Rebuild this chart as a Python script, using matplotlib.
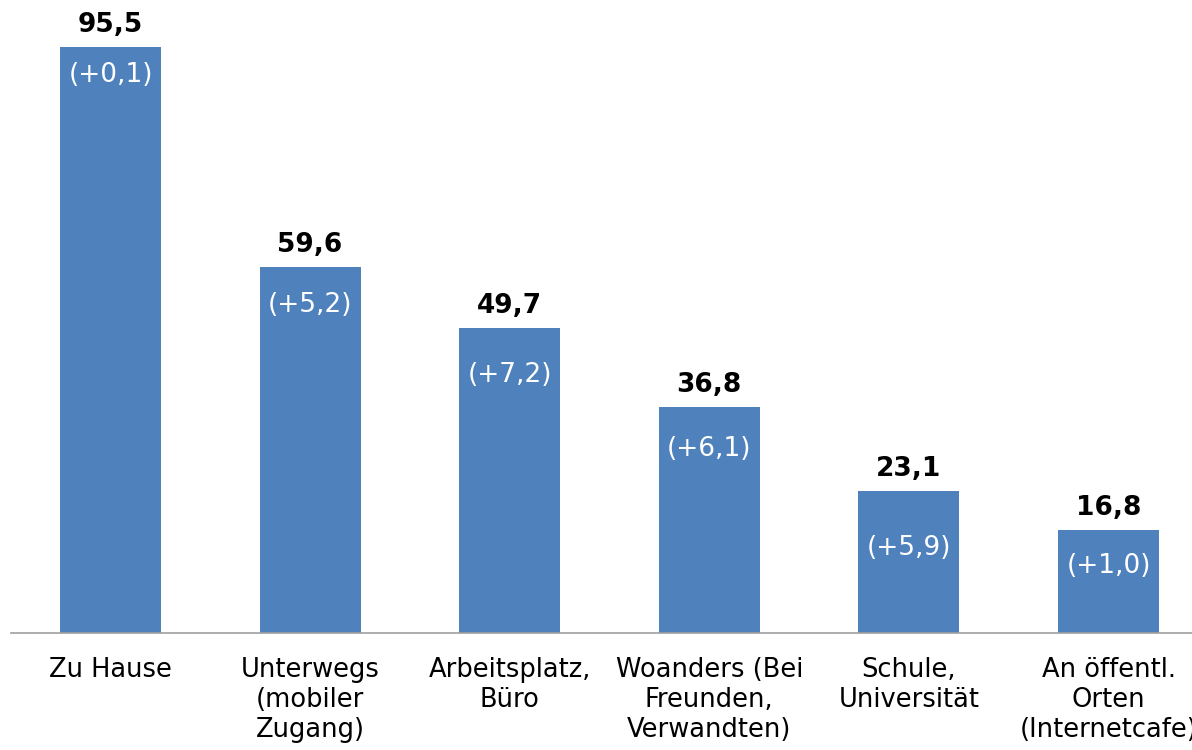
import numpy as np
import matplotlib
import matplotlib.pyplot as plt
matplotlib.use("Agg")

# Data
categories = [
    "Zu Hause",
    "Unterwegs\n(mobiler\nZugang)",
    "Arbeitsplatz,\nBüro",
    "Woanders (Bei\nFreunden,\nVerwandten)",
    "Schule,\nUniversität",
    "An öffentl.\nOrten\n(Internetcafe)",
]
values = [95.5, 59.6, 49.7, 36.8, 23.1, 16.8]
changes = ["(+0,1)", "(+5,2)", "(+7,2)", "(+6,1)", "(+5,9)", "(+1,0)"]

# Layout: offset (pt) of the change label below each bar top
inner_offsets = [20, 27, 34, 30, 41, 26]

fig = plt.figure(figsize=(11.92, 7.5), dpi=100)
ax = fig.add_axes([10.7 / 1192, 117 / 750, 1197.6 / 1192, 633 / 750])

x = np.arange(len(categories))
bars = ax.bar(x, values, width=0.506, color="#4f81bd", zorder=2)

ax.set_xlim(-0.5, len(categories) - 0.5)
ax.set_ylim(0, 633 / 6.136)

for spine in ["top", "right", "left"]:
    ax.spines[spine].set_visible(False)
ax.spines["bottom"].set_color("#a0a0a0")
ax.spines["bottom"].set_linewidth(1.2)
ax.set_yticks([])

ax.set_xticks(x)
ax.set_xticklabels(categories, fontsize=18.5, linespacing=1.22)
ax.tick_params(axis="x", length=0, pad=17)

for xi, v, ch, off in zip(x, values, changes, inner_offsets):
    ax.annotate(f"{v:.1f}".replace(".", ","), (xi, v),
        xytext=(0, 11), textcoords="offset points",
        ha="center", va="baseline",
        fontsize=19, fontweight="bold", color="black",
    )
    ax.annotate(ch, (xi, v),
        xytext=(0, -off), textcoords="offset points",
        ha="center", va="center",
        fontsize=19, color="white",
    )

fig.savefig("out.png", dpi=100)
